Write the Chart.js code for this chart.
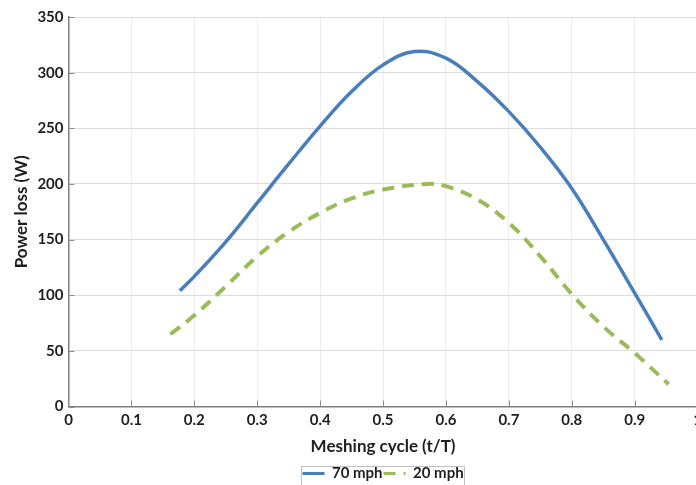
<!DOCTYPE html>
<html>
<head>
<meta charset="utf-8">
<script src="https://cdn.jsdelivr.net/npm/chart.js@4/dist/chart.umd.min.js"></script>
<style>
  html, body { margin: 0; padding: 0; background: #fff; overflow: hidden; }
  #wrap { width: 707px; height: 485px; }
</style>
</head>
<body>
<div id="wrap"><canvas id="lossChart"></canvas></div>
<script>
// meshing cycle positions (t/T) and power loss (W) for each speed
var cycle70 = [0.177, 0.2, 0.25, 0.3, 0.35, 0.4, 0.45, 0.5, 0.55, 0.6, 0.65, 0.7, 0.75, 0.8, 0.85, 0.9, 0.943];
var loss70 = [104, 117, 148, 183, 218, 252, 283, 307, 319, 313, 292, 265, 233, 196, 150, 102, 60];

var cycle20 = [0.162, 0.2, 0.25, 0.3, 0.35, 0.4, 0.45, 0.5, 0.57, 0.6, 0.65, 0.7, 0.75, 0.8, 0.85, 0.9, 0.954];
var loss20 = [65, 82, 108, 135, 157, 174, 187, 195, 200, 198, 186, 165, 135, 101, 72, 48, 20];

var seriesNames = ["70 mph", "20 mph"];
var xTicks = [0, 0.1, 0.2, 0.3, 0.4, 0.5, 0.6, 0.7, 0.8, 0.9, 1];
var yTicks = [0, 50, 100, 150, 200, 250, 300, 350];

function toPoints(xs, ys) {
  return xs.map(function (x, i) { return { x: x, y: ys[i] }; });
}

var font = "Lato, 'Open Sans', sans-serif";
var ink = "#1f1f1f";

// short tick marks pointing into the plot
var innerTicks = {
  id: "innerTicks",
  beforeDatasetsDraw: function (chart) {
    var ctx = chart.ctx, a = chart.chartArea;
    var xs = chart.scales.x, ys = chart.scales.y;
    ctx.save();
    ctx.strokeStyle = "#8c8c8c";
    ctx.lineWidth = 1;
    yTicks.forEach(function (v) {
      var p = Math.round(ys.getPixelForValue(v)) + 0.5;
      ctx.beginPath(); ctx.moveTo(a.left, p); ctx.lineTo(a.left + 6, p); ctx.stroke();
    });
    xTicks.forEach(function (v) {
      var p = Math.round(xs.getPixelForValue(v)) + 0.5;
      ctx.beginPath(); ctx.moveTo(p, a.bottom); ctx.lineTo(p, a.bottom - 6); ctx.stroke();
    });
    ctx.restore();
  }
};

// thin frame round the legend items
var legendFrame = {
  id: "legendFrame",
  afterDraw: function (chart) {
    var boxes = chart.legend.legendHitBoxes;
    if (!boxes || !boxes.length) return;
    var l = Infinity, r = -Infinity, t = Infinity, b = -Infinity;
    boxes.forEach(function (h) {
      l = Math.min(l, h.left); r = Math.max(r, h.left + h.width);
      t = Math.min(t, h.top); b = Math.max(b, h.top + h.height);
    });
    var cy = (t + b) / 2;
    var ctx = chart.ctx;
    ctx.save();
    ctx.strokeStyle = "#bfbfbf";
    ctx.lineWidth = 1;
    ctx.strokeRect(Math.round(l - 1) + 0.5, Math.round(cy - 8) + 0.5, Math.round(r - l + 2), 22);
    ctx.restore();
  }
};

new Chart(document.getElementById("lossChart"), {
  type: "scatter",
  data: {
    datasets: [
      {
        label: seriesNames[0],
        data: toPoints(cycle70, loss70),
        showLine: true,
        borderColor: "#4a7ebb",
        borderWidth: 3.5,
        pointRadius: 0,
        tension: 0.4
      },
      {
        label: seriesNames[1],
        data: toPoints(cycle20, loss20),
        showLine: true,
        borderColor: "#9bbb59",
        borderWidth: 4,
        borderDash: [12, 8],
        pointRadius: 0,
        tension: 0.4
      }
    ]
  },
  options: {
    responsive: true,
    maintainAspectRatio: false,
    animation: false,
    layout: { padding: { top: 17, left: 0, right: 0, bottom: -6 } },
    scales: {
      x: {
        type: "linear",
        min: 0,
        max: 1,
        afterBuildTicks: function (s) { s.ticks = xTicks.map(function (v) { return { value: v }; }); },
        grid: { color: "#ededed", drawTicks: false },
        border: { color: "#7f7f7f", width: 1.5 },
        ticks: {
          padding: 5,
          color: ink,
          font: { family: font, size: 15, weight: "bold" },
          callback: function (v) { return String(v); }
        },
        title: {
          display: true,
          text: "Meshing cycle (t/T)",
          color: ink,
          font: { family: font, size: 17, weight: "bold" },
          padding: { top: 2, bottom: 8 }
        }
      },
      y: {
        min: 0,
        max: 350,
        afterBuildTicks: function (s) { s.ticks = yTicks.map(function (v) { return { value: v }; }); },
        grid: { color: "#dcdcdc", drawTicks: false },
        border: { color: "#7f7f7f", width: 1.5 },
        ticks: {
          padding: 5,
          color: ink,
          font: { family: font, size: 15, weight: "bold" }
        },
        title: {
          display: true,
          text: "Power loss (W)",
          color: ink,
          font: { family: font, size: 17, weight: "bold" },
          padding: { top: 11, bottom: 1 }
        }
      }
    },
    plugins: {
      legend: {
        position: "bottom",
        fullSize: false,
        labels: {
          usePointStyle: true,
          pointStyleWidth: 22,
          boxHeight: 4,
          padding: 1,
          color: ink,
          font: { family: font, size: 15, weight: "bold" },
          generateLabels: function (chart) {
            return chart.data.datasets.map(function (ds, i) {
              return {
                text: ds.label,
                datasetIndex: i,
                pointStyle: "line",
                strokeStyle: ds.borderColor,
                fillStyle: ds.borderColor,
                lineWidth: 3,
                lineDash: ds.borderDash || [],
                fontColor: ink
              };
            });
          }
        }
      },
      tooltip: { enabled: false }
    }
  },
  plugins: [innerTicks, legendFrame]
});
</script>
</body>
</html>
